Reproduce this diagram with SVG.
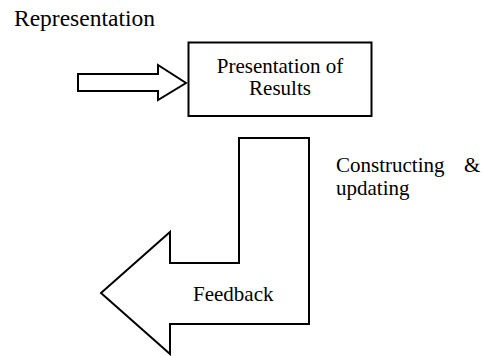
<svg xmlns="http://www.w3.org/2000/svg" width="483" height="356" viewBox="0 0 483 356">
<style>
.t { font-family: 'Liberation Serif', 'Times New Roman', Times, 'DejaVu Serif', serif; fill: #000; }
.shape { fill: #fff; stroke: #000; stroke-width: 2; stroke-linejoin: miter; }
.lbl { font-size: 21px; }
</style>
<rect width="483" height="356" fill="#fff"/>
<g id="representation-label">
<text class="t" font-family="Liberation Serif, serif" x="14" y="26" font-size="23.5">Representation</text>
</g>
<g id="connectors">
<polygon id="input-arrow" class="shape" points="78,74 158,74 158,65 186,83 158,100 158,91 78,91"/>
</g>
<g id="presentation">
<rect class="shape" x="188.5" y="42.5" width="183" height="73.5"/>
<text class="t lbl" font-family="Liberation Serif, serif" x="280" y="73" text-anchor="middle">Presentation of</text>
<text class="t lbl" font-family="Liberation Serif, serif" x="280" y="95" text-anchor="middle">Results</text>
</g>
<g id="feedback">
<polygon class="shape" points="239,138 309,138 309,324 170,324 170,354 101,293 170,232 170,263 239,263"/>
<text class="t lbl" font-family="Liberation Serif, serif" x="193" y="301">Feedback</text>
</g>
<g id="constructing-label">
<text class="t lbl" font-family="Liberation Serif, serif" x="336" y="172">Constructing</text>
<text class="t lbl" font-family="Liberation Serif, serif" x="464" y="172">&amp;</text>
<text class="t lbl" font-family="Liberation Serif, serif" x="336" y="195">updating</text>
</g>
</svg>
